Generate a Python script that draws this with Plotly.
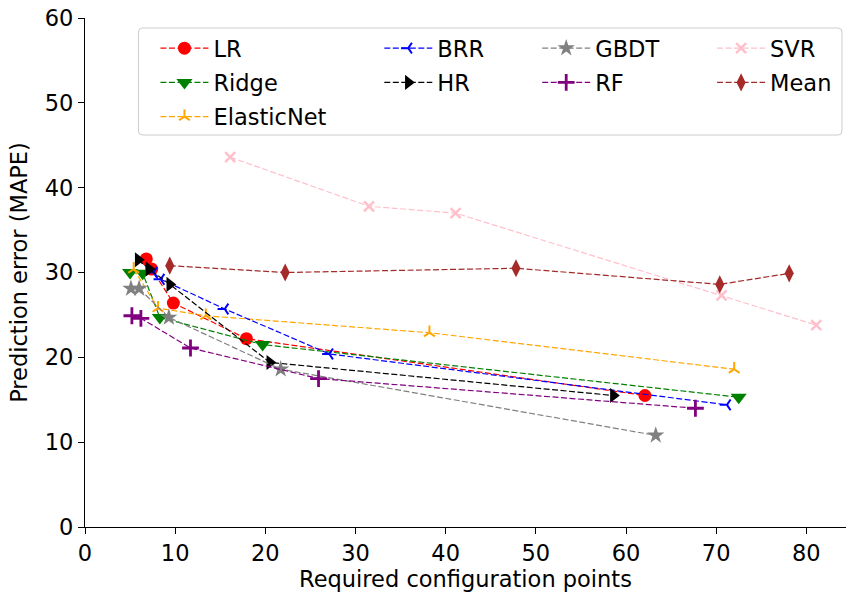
import plotly.graph_objects as go

# ---- data ----
lr_x = [6.8, 7.4, 9.8, 17.9, 62.1]
lr_y = [31.6, 30.4, 26.4, 22.2, 15.5]
ridge_x = [5.0, 6.4, 8.3, 19.7, 72.5]
ridge_y = [30.0, 29.9, 24.7, 21.5, 15.3]
enet_x = [5.4, 8.1, 13.4, 38.2, 72.0]
enet_y = [30.4, 25.8, 24.9, 22.9, 18.6]
brr_x = [7.6, 8.4, 15.5, 27.1, 71.2]
brr_y = [30.0, 29.2, 25.7, 20.4, 14.4]
hr_x = [5.9, 7.1, 9.4, 20.5, 58.6]
hr_y = [31.5, 30.4, 28.6, 19.4, 15.5]
gbdt_x = [5.1, 6.0, 9.3, 21.7, 63.3]
gbdt_y = [28.1, 28.1, 24.7, 18.6, 10.8]
rf_x = [5.2, 6.2, 11.7, 25.9, 67.7]
rf_y = [24.9, 24.6, 21.1, 17.5, 14.0]
svr_x = [16.1, 31.5, 41.1, 70.6, 81.1]
svr_y = [43.6, 37.8, 37.0, 27.3, 23.8]
mean_x = [9.4, 22.2, 47.8, 70.4, 78.1]
mean_y = [30.8, 30.0, 30.5, 28.6, 29.9]

x_ticks = [0, 10, 20, 30, 40, 50, 60, 70, 80]
y_ticks = [0, 10, 20, 30, 40, 50, 60]

series = [
    # name, x, y, color, symbol, size, filled, line width, legend, rank
    ("LR", lr_x, lr_y, "red", "circle", 13, True, 0, "legend", 1),
    ("Ridge", ridge_x, ridge_y, "green", "triangle-down", 14, True, 0, "legend", 2),
    ("ElasticNet", enet_x, enet_y, "orange", "y-up", 9, False, 2, "legend", 3),
    ("BRR", brr_x, brr_y, "blue", "y-left", 9, False, 2, "legend2", 1),
    ("HR", hr_x, hr_y, "black", "triangle-right", 13, True, 0, "legend2", 2),
    ("GBDT", gbdt_x, gbdt_y, "gray", "star", 13, True, 0, "legend3", 1),
    ("RF", rf_x, rf_y, "purple", "cross-thin", 12, False, 2.8, "legend3", 2),
    ("SVR", svr_x, svr_y, "pink", "x-thin", 10, False, 2.5, "legend4", 1),
    ("Mean", mean_x, mean_y, "brown", "diamond-tall", 13, True, 0, "legend4", 2),
]

fig = go.Figure()
for name, xs, ys, col, sym, sz, filled, lw, leg, rank in series:
    if filled:
        mk = dict(symbol=sym, size=sz, color=col, line=dict(width=0))
    else:
        mk = dict(symbol=sym, size=sz, color=col, line=dict(width=lw, color=col))
    fig.add_trace(go.Scatter(
        x=xs, y=ys, name=name, mode="lines+markers",
        line=dict(color=col, width=1.2, dash="6px,2.5px"),
        marker=mk, legend=leg, legendgroup=name, legendrank=rank,
    ))

font = "DejaVu Sans"
FS = 22.5
W, H = 846, 596
L, R, T, B = 84.5, 0, 18, 69
pw, ph = W - L - R, H - T - B

def px2paper_x(px):
    return (px - L) / pw

def px2paper_y(py):
    return (H - B - py) / ph

leg_common = dict(
    font=dict(family=font, size=FS, color="black"),
    bgcolor="rgba(0,0,0,0)", borderwidth=0,
    xanchor="left", yanchor="top", orientation="v",
    traceorder="grouped", tracegroupgap=2, itemwidth=48,
)
ly = px2paper_y(27)
fig.update_layout(
    legend=dict(x=px2paper_x(155), y=ly, **leg_common),
    legend2=dict(x=px2paper_x(379), y=ly, **leg_common),
    legend3=dict(x=px2paper_x(537), y=ly, **leg_common),
    legend4=dict(x=px2paper_x(712), y=ly, **leg_common),
)

# legend frame
x0, x1 = px2paper_x(138), px2paper_x(842)
y0, y1 = px2paper_y(135), px2paper_y(28)
rx, ry = 4 / pw, 4 / ph
path = (f"M{x0+rx},{y0} L{x1-rx},{y0} Q{x1},{y0} {x1},{y0+ry} "
        f"L{x1},{y1-ry} Q{x1},{y1} {x1-rx},{y1} L{x0+rx},{y1} "
        f"Q{x0},{y1} {x0},{y1-ry} L{x0},{y0+ry} Q{x0},{y0} {x0+rx},{y0} Z")
fig.add_shape(type="path", path=path, xref="paper", yref="paper",
              fillcolor="rgba(255,255,255,0.8)",
              line=dict(color="#cccccc", width=1), layer="above")

axis_common = dict(
    showgrid=False, zeroline=False, showline=True, linecolor="black", linewidth=1.3,
    ticks="outside", ticklen=6, tickwidth=1.3, tickcolor="black",
    tickfont=dict(family=font, size=FS, color="black"),
    title_font=dict(family=font, size=FS, color="black"),
)
fig.update_xaxes(range=[0, 84.4], tickvals=x_ticks, ticktext=[str(v) for v in x_ticks],
                 title_text="Required configuration points", title_standoff=4, **axis_common)
fig.update_yaxes(range=[0, 60], tickvals=y_ticks, ticktext=[str(v) for v in y_ticks],
                 title_text="Prediction error (MAPE)", title_standoff=10, **axis_common)

fig.update_layout(
    width=W, height=H,
    margin=dict(l=L, r=R, t=T, b=B, pad=0),
    plot_bgcolor="white", paper_bgcolor="white",
    font=dict(family=font, size=FS, color="black"),
)

fig.write_html("out.html")
